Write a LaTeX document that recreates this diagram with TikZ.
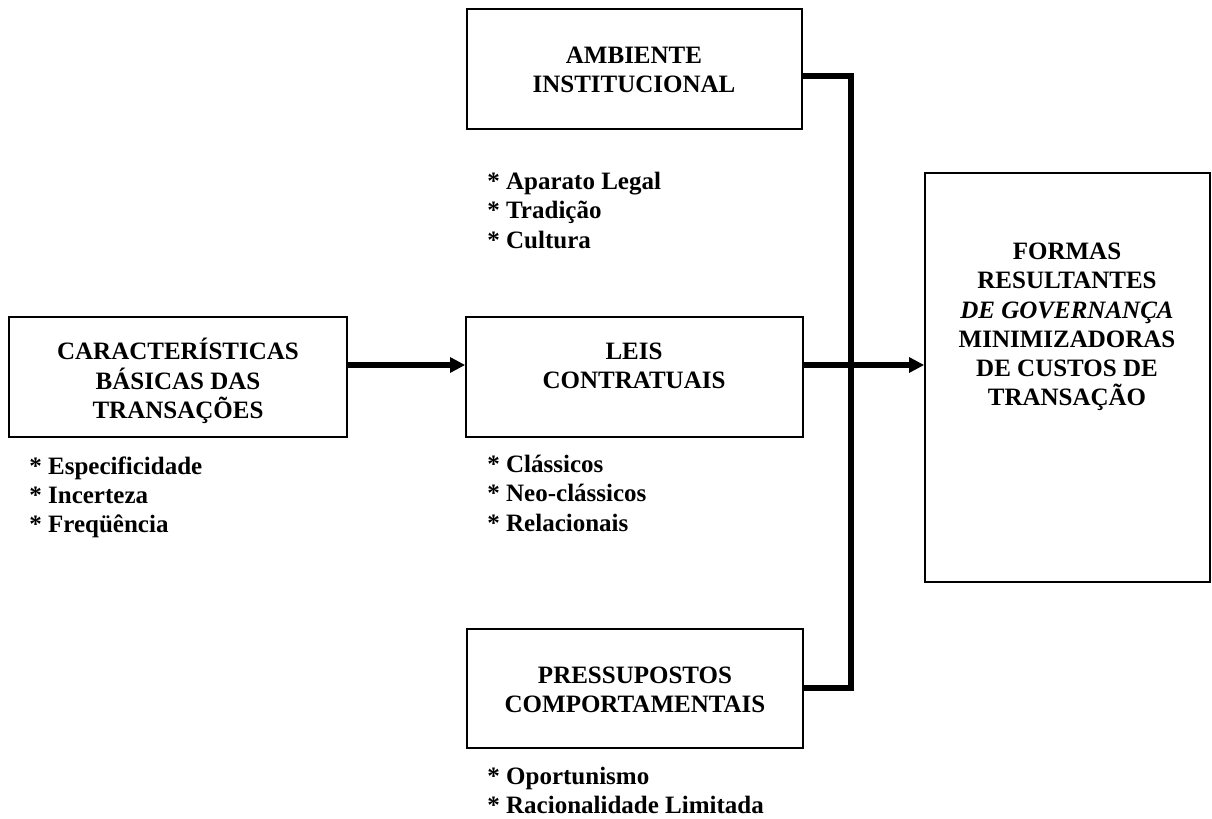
\documentclass[tikz,border=0pt]{standalone}
\usepackage{fontspec}
\setmainfont{Liberation Serif}
\usetikzlibrary{arrows.meta,fit}
\begin{document}
\begin{tikzpicture}[x=0.48pt,y=-0.48pt,
  box/.style={draw,line width=0.75pt,inner sep=0pt},
  title/.style={font=\bfseries\fontsize{12}{14}\selectfont,align=center,inner sep=0pt},
  items/.style={font=\bfseries\fontsize{12}{14}\selectfont,align=left,inner sep=0pt,anchor=north west},
  link/.style={line width=2.7pt,line join=miter},
  arr/.style={line width=2.6pt,-{Triangle[length=7.2pt,width=7pt]}}]
\useasboundingbox (0,0) rectangle (1212,818);

% boxes
\node[box,fit={(9,317) (347,437)}] (car) {};
\node[box,fit={(467,9) (802,129)}] (amb) {};
\node[box,fit={(466,317) (803,437)}] (leis) {};
\node[box,fit={(467,629) (803,748)}] (press) {};
\node[box,fit={(925,173) (1210,582)}] (formas) {};

% box titles
\node[title] (cartxt) at (178,381) {CARACTERÍSTICAS\\BÁSICAS DAS\\TRANSAÇÕES};
\node[title] (ambtxt) at (634,70) {AMBIENTE\\INSTITUCIONAL};
\node[title] (leistxt) at (634,366) {LEIS\\CONTRATUAIS};
\node[title] (presstxt) at (635,690) {PRESSUPOSTOS\\COMPORTAMENTAIS};
\node[title] (formastxt) at (1067,327) {FORMAS\\RESULTANTES\\\textit{DE GOVERNANÇA}\\MINIMIZADORAS\\DE CUSTOS DE\\TRANSAÇÃO};

% item lists
\node[items] (carlist) at (29,456) {* Especificidade\\* Incerteza\\* Freqüência};
\node[items] (amblist) at (487,172) {* Aparato Legal\\* Tradição\\* Cultura};
\node[items] (leislist) at (487,455) {* Clássicos\\* Neo-clássicos\\* Relacionais};
\node[items] (presslist) at (487,767) {* Oportunismo\\* Racionalidade Limitada};

% connectors
\coordinate (row) at (0,365);
\coordinate (bustop) at (851,76);
\coordinate (busbot) at (851,688);
\draw[arr] (car.east |- row) -- (leis.west |- row);
\draw[link] (amb.east |- bustop) -- (bustop) -- (busbot) -- (press.east |- busbot);
\draw[arr] (leis.east |- row) -- (formas.west |- row);
\end{tikzpicture}
\end{document}
